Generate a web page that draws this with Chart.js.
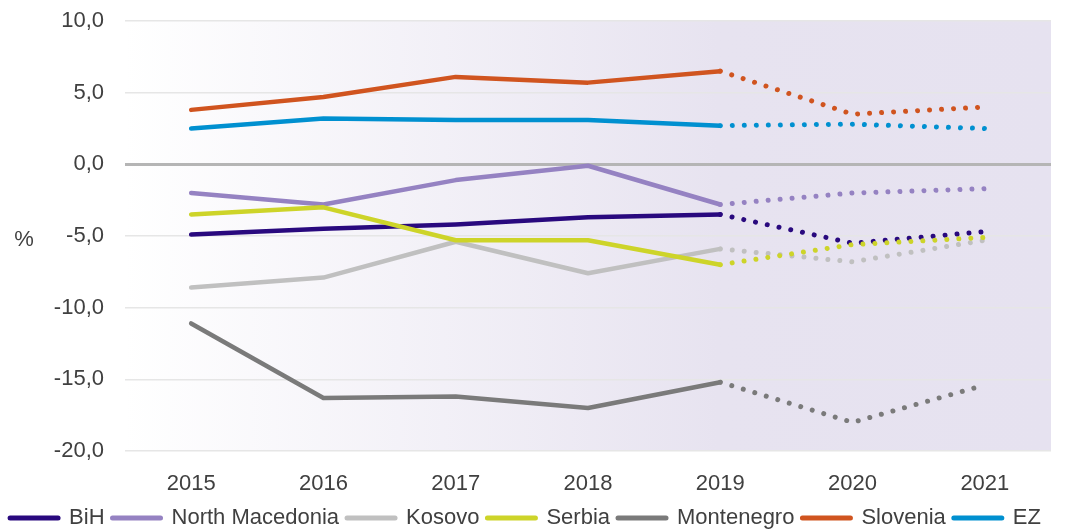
<!DOCTYPE html>
<html>
<head>
<meta charset="utf-8">
<title>Current account balance, % of GDP</title>
<script src="https://cdn.jsdelivr.net/npm/chart.js@4.4.1/dist/chart.umd.min.js"></script>
<style>
  html, body { margin: 0; padding: 0; background: #ffffff; }
  #wrap { width: 1074px; height: 531px; }
</style>
</head>
<body>
<div id="wrap"><canvas id="chart" width="1074" height="531"></canvas></div>
<script>
// Years on the category axis; 2020 and 2021 are projections (dotted)
const years = ['2015', '2016', '2017', '2018', '2019', '2020', '2021'];
const firstProjectedIndex = 4; // segments starting at 2019 are dotted

// Series values, %
const bih            = [-4.9, -4.5, -4.2, -3.7, -3.5, -5.5, -4.7];
const northMacedonia = [-2.0, -2.8, -1.1, -0.1, -2.8, -2.0, -1.7];
const kosovo         = [-8.6, -7.9, -5.4, -7.6, -5.9, -6.8, -5.3];
const serbia         = [-3.5, -3.0, -5.3, -5.3, -7.0, -5.6, -5.1];
const montenegro     = [-11.1, -16.3, -16.2, -17.0, -15.2, -18.0, -15.4];
const slovenia       = [3.8, 4.7, 6.1, 5.7, 6.5, 3.5, 4.0];
const ez             = [2.5, 3.2, 3.1, 3.1, 2.7, 2.8, 2.5];

const seriesNames = ['BiH', 'North Macedonia', 'Kosovo', 'Serbia', 'Montenegro', 'Slovenia', 'EZ'];
const seriesData  = [bih, northMacedonia, kosovo, serbia, montenegro, slovenia, ez];
const seriesColors = ['#29097e', '#9582c2', '#c0c0c0', '#cdd429', '#7a7a7a', '#d0541f', '#0090d0'];

// Y axis range and tick step
const yMin = -20, yMax = 10, yStep = 5;
const yUnit = '%';

const FONT = '"Liberation Sans", Arial, sans-serif';
const TEXT = '#404040';

const datasets = seriesNames.map((name, i) => ({
  label: name,
  data: seriesData[i],
  borderColor: seriesColors[i],
  backgroundColor: seriesColors[i],
  borderWidth: 4.5,
  borderCapStyle: 'round',
  borderJoinStyle: 'round',
  pointRadius: 0,
  pointHoverRadius: 0,
  tension: 0,
  fill: false,
  order: seriesNames.length - i,
  segment: {
    borderDash: ctx => ctx.p0DataIndex >= firstProjectedIndex ? [0.01, 12] : undefined,
    borderWidth: ctx => ctx.p0DataIndex >= firstProjectedIndex ? 5 : undefined
  }
}));

// Plot-area background: white fading into light lavender
const plotBackground = {
  id: 'plotBackground',
  beforeDraw(chart) {
    const { ctx, chartArea: a } = chart;
    const g = ctx.createLinearGradient(a.left, 0, a.right, 0);
    g.addColorStop(0, '#ffffff');
    g.addColorStop(0.64, '#e7e3f0');
    g.addColorStop(1, '#e6e2f0');
    ctx.save();
    ctx.fillStyle = g;
    ctx.fillRect(a.left, a.top, a.right - a.left, a.bottom - a.top);
    ctx.restore();
  }
};

// Unit label to the left of the value axis, drawn upright
const unitLabel = {
  id: 'unitLabel',
  afterDraw(chart) {
    const { ctx } = chart;
    const y = chart.scales.y.getPixelForValue(-5);
    ctx.save();
    ctx.font = '22px ' + FONT;
    ctx.fillStyle = TEXT;
    ctx.textAlign = 'center';
    ctx.textBaseline = 'middle';
    ctx.fillText(yUnit, 24, y + 4);
    ctx.restore();
  }
};

new Chart(document.getElementById('chart'), {
  type: 'line',
  data: { labels: years, datasets },
  plugins: [plotBackground, unitLabel],
  options: {
    responsive: false,
    devicePixelRatio: 1,
    animation: false,
    layout: { padding: { top: 21, right: 23, bottom: -8, left: 0 } },
    scales: {
      x: {
        offset: true,
        grid: { display: false, drawTicks: false },
        border: { display: false },
        ticks: { color: TEXT, font: { family: FONT, size: 22 }, padding: 20, maxRotation: 0 },
        afterFit(scale) { scale.height = 48; }
      },
      y: {
        min: yMin,
        max: yMax,
        grid: {
          drawTicks: false,
          color: c => c.tick && c.tick.value === 0 ? '#b5b5b5' : '#e6e6e6',
          lineWidth: c => c.tick && c.tick.value === 0 ? 3 : 1.5
        },
        border: { display: false },
        ticks: {
          stepSize: yStep,
          color: TEXT,
          font: { family: FONT, size: 22 },
          padding: 21,
          callback: v => v.toFixed(1).replace('.', ',')
        },
        afterFit(scale) {
          scale.width = 125;
          scale.paddingTop = 0;
          scale.paddingBottom = 0;
        }
      }
    },
    plugins: {
      tooltip: { enabled: false },
      legend: {
        position: 'bottom',
        labels: {
          color: TEXT,
          font: { family: FONT, size: 22 },
          usePointStyle: true,
          pointStyleWidth: 48,
          padding: 8,
          sort: (a, b) => a.datasetIndex - b.datasetIndex,
          generateLabels(chart) {
            const items = Chart.defaults.plugins.legend.labels.generateLabels(chart);
            items.forEach(it => {
              it.pointStyle = 'line';
              it.lineWidth = 5;
              it.lineCap = 'round';
              it.lineDash = [];
            });
            return items;
          }
        }
      }
    }
  }
});
</script>
</body>
</html>
